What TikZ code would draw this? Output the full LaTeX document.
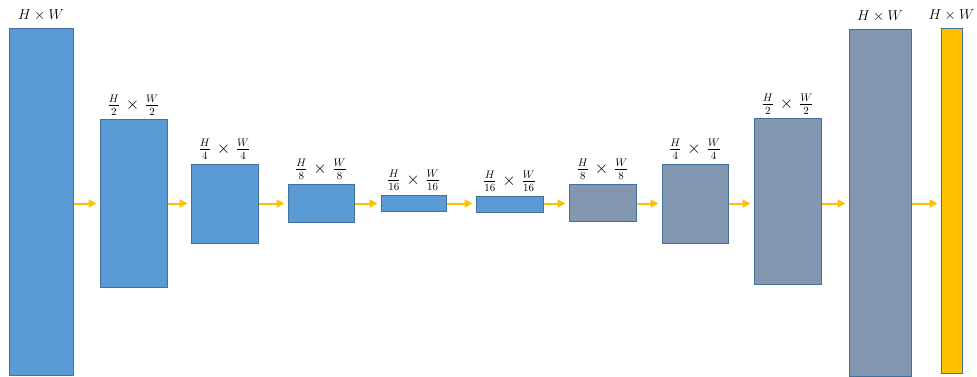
\documentclass[tikz,border=0pt]{standalone}
\usetikzlibrary{arrows.meta}
\definecolor{encfill}{HTML}{5B9BD5}
\definecolor{decfill}{HTML}{8497B0}
\definecolor{outfill}{HTML}{FFC000}
\definecolor{edge}{HTML}{41719C}
\definecolor{flow}{HTML}{FFC000}
\newcommand{\res}[2]{\frac{H}{#1}\mkern2mu\times\mkern2mu\frac{W}{#2}}
\tikzset{
  layer/.style={draw=edge, line width=1pt, inner sep=0pt, anchor=center},
  enc/.style={layer, fill=encfill},
  dec/.style={layer, fill=decfill},
  outl/.style={layer, fill=outfill},
  size/.style={anchor=south, inner sep=0pt, font=\fontsize{16}{18}\selectfont},
  fullsize/.style={anchor=south, inner sep=0pt, font=\fontsize{15.5}{17}\selectfont},
  flowarrow/.style={draw=flow, line width=2pt, -{Triangle[length=8pt,width=8pt]}, shorten >=3pt}
}
\begin{document}
\begin{tikzpicture}[x=1pt, y=-1pt]
\useasboundingbox (0,0) rectangle (977,377);
% encoder
\node[enc, minimum width=64pt, minimum height=346pt] (b1) at (41,202) {};
\node[enc, minimum width=67pt, minimum height=167pt] (b2) at (133.5,203.5) {};
\node[enc, minimum width=67pt, minimum height=79pt] (b3) at (224.5,203.5) {};
\node[enc, minimum width=66pt, minimum height=38pt] (b4) at (321,203) {};
\node[enc, minimum width=65pt, minimum height=16pt] (b5) at (413.5,203) {};
\node[enc, minimum width=67pt, minimum height=16pt] (b6) at (509.5,204) {};
% decoder
\node[dec, minimum width=67pt, minimum height=37pt] (b7) at (602.5,202.5) {};
\node[dec, minimum width=66pt, minimum height=79pt] (b8) at (695,203.5) {};
\node[dec, minimum width=67pt, minimum height=165pt] (b9) at (787.5,201.5) {};
\node[dec, minimum width=62pt, minimum height=346pt] (b10) at (880,203) {};
% output
\node[outl, minimum width=21pt, minimum height=344pt] (b11) at (951.5,201) {};
% resolution labels
\node[fullsize] (l1) at ([yshift=8pt]b1.north) {$H\times W$};
\node[size] (l2) at ([yshift=4pt]b2.north) {$\res{2}{2}$};
\node[size] (l3) at ([yshift=4pt]b3.north) {$\res{4}{4}$};
\node[size] (l4) at ([yshift=4pt]b4.north) {$\res{8}{8}$};
\node[size] (l5) at ([yshift=4pt]b5.north) {$\res{16}{16}$};
\node[size] (l6) at ([yshift=4pt]b6.north) {$\res{16}{16}$};
\node[size] (l7) at ([yshift=4pt]b7.north) {$\res{8}{8}$};
\node[size] (l8) at ([yshift=4pt]b8.north) {$\res{4}{4}$};
\node[size] (l9) at ([yshift=4pt]b9.north) {$\res{2}{2}$};
\node[fullsize] (l10) at ([yshift=8pt]b10.north) {$H\times W$};
\node[fullsize] (l11) at ([yshift=8pt]b11.north) {$H\times W$};
% data flow
\foreach \a/\b in {b1/b2,b2/b3,b3/b4,b4/b5,b5/b6,b6/b7,b7/b8,b8/b9,b9/b10,b10/b11}
  \draw[flowarrow] (\a.east |- 0,203.5) -- (\b.west |- 0,203.5);
\end{tikzpicture}
\end{document}
